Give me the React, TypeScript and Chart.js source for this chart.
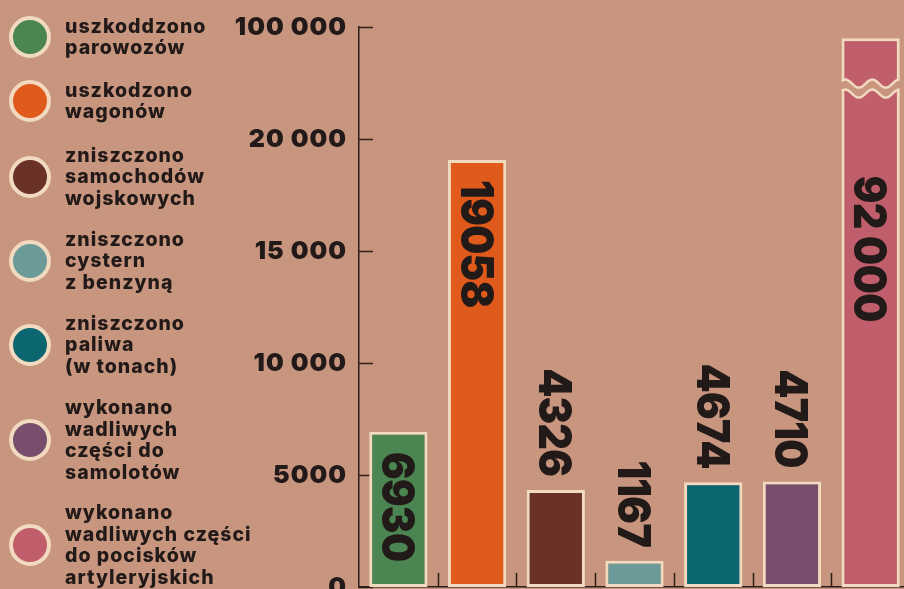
import React, { useEffect, useRef } from "react";
import { Chart, registerables } from "chart.js";

Chart.register(...registerables);

// ---------- data ----------
const categories = [
  "uszkoddzono parowozów",
  "uszkodzono wagonów",
  "zniszczono samochodów wojskowych",
  "zniszczono cystern z benzyną",
  "zniszczono paliwa (w tonach)",
  "wykonano wadliwych części do samolotów",
  "wykonano wadliwych części do pocisków artyleryjskich",
];
const legendLines = [
  ["uszkoddzono", "parowozów"],
  ["uszkodzono", "wagonów"],
  ["zniszczono", "samochodów", "wojskowych"],
  ["zniszczono", "cystern", "z benzyną"],
  ["zniszczono", "paliwa", "(w tonach)"],
  ["wykonano", "wadliwych", "części do", "samolotów"],
  ["wykonano", "wadliwych części", "do pocisków", "artyleryjskich"],
];
const values = [6930, 19058, 4326, 1167, 4674, 4710, 92000];
const valueLabels = ["6930", "19058", "4326", "1167", "4674", "4710", "92 000"];
const barColors = ["#4b8551", "#e05a1b", "#6a3129", "#6b9a99", "#0b6670", "#784e6c", "#c15e6b"];
const tickValues = [0, 5000, 10000, 15000, 20000, 100000];
const tickLabels = ["0", "5000", "10 000", "15 000", "20 000", "100 000"];

// axis break: above 20 000 the scale is compressed 16x
const BREAK = 20000;
const COMPRESS = 16;
const toDisplay = (v: number) => (v <= BREAK ? v : BREAK + (v - BREAK) / COMPRESS);

// ---------- styling ----------
const BG = "#c8957e";
const CREAM = "#f1dabf";
const INK = "#221a18";
const AXIS = "#2c1e18";
const FONT = "Inter, 'DejaVu Sans', sans-serif";
const legendCenters = [37, 101, 177, 261, 345, 440, 545];

const spacing = {
  id: "spacing",
  beforeDraw(chart: any) {
    chart.ctx.letterSpacing = "1px";
  },
  beforeDatasetsDraw(chart: any) {
    chart.ctx.letterSpacing = "0px";
  },
};

const axisMarks = {
  id: "axisMarks",
  beforeDatasetsDraw(chart: any) {
    const { ctx, chartArea, scales } = chart;
    const y = scales.y;
    const x = scales.x;
    ctx.save();
    ctx.strokeStyle = AXIS;
    ctx.lineWidth = 1.5;
    y.ticks.forEach((t: any) => {
      const py = Math.round(y.getPixelForValue(t.value)) + 0.5;
      ctx.beginPath();
      ctx.moveTo(chartArea.left, py);
      ctx.lineTo(chartArea.left + 14, py);
      ctx.stroke();
    });
    const n = categories.length;
    for (let i = 1; i <= n; i++) {
      const bx = i < n ? Math.round((x.getPixelForValue(i - 1) + x.getPixelForValue(i)) / 2) : chartArea.right;
      ctx.beginPath();
      ctx.moveTo(bx + 0.5, chartArea.bottom);
      ctx.lineTo(bx + 0.5, chartArea.bottom - 14);
      ctx.stroke();
    }
    ctx.restore();
  },
};

const breakAndLabels = {
  id: "breakAndLabels",
  afterDatasetsDraw(chart: any) {
    const { ctx, scales } = chart;
    const y = scales.y;
    const meta = chart.getDatasetMeta(0);
    ctx.save();
    values.forEach((v, i) => {
      const el: any = meta.data[i];
      const top = el.y;
      const base = el.base;
      const cx = el.x;
      let labelStart: number | null = null;
      if (v > BREAK) {
        // wavy break
        const yc = (y.getPixelForValue(BREAK) + top) / 2;
        const left = cx - el.width / 2 - 3;
        const right = cx + el.width / 2 + 3;
        const A = 4;
        const P = 27;
        const half = 5;
        const wave = (xx: number, off: number) => yc + off - A * Math.sin((2 * Math.PI * (xx - left)) / P);
        ctx.beginPath();
        for (let xx = left; xx <= right; xx += 0.5) {
          const yy = wave(xx, -half);
          if (xx === left) ctx.moveTo(xx, yy);
          else ctx.lineTo(xx, yy);
        }
        for (let xx = right; xx >= left; xx -= 0.5) ctx.lineTo(xx, wave(xx, half));
        ctx.closePath();
        ctx.fillStyle = BG;
        ctx.fill();
        ctx.strokeStyle = CREAM;
        ctx.lineWidth = 2.5;
        [-half, half].forEach((off) => {
          ctx.beginPath();
          for (let xx = left + 3; xx <= right - 3; xx += 0.5) {
            const yy = wave(xx, off);
            if (xx === left + 3) ctx.moveTo(xx, yy);
            else ctx.lineTo(xx, yy);
          }
          ctx.stroke();
        });
        labelStart = yc + 87;
      }
      // value label, rotated 90deg clockwise, slightly condensed
      const fs = 46;
      const sx = 0.9;
      ctx.font = `900 ${fs}px ${FONT}`;
      ctx.letterSpacing = "-1px";
      const txt = valueLabels[i];
      const w = ctx.measureText(txt).width * sx;
      const capH = fs * 0.72;
      ctx.fillStyle = INK;
      ctx.textBaseline = "alphabetic";
      if (labelStart === null && base - top >= w + 40) labelStart = top + 20;
      ctx.save();
      if (labelStart !== null) {
        ctx.translate(cx, labelStart);
        ctx.rotate(Math.PI / 2);
        ctx.scale(sx, 1);
        ctx.textAlign = "left";
      } else {
        ctx.translate(cx, top - 14);
        ctx.rotate(Math.PI / 2);
        ctx.scale(sx, 1);
        ctx.textAlign = "right";
      }
      ctx.fillText(txt, 0, capH / 2);
      ctx.restore();
    });
    ctx.letterSpacing = "0px";
    ctx.restore();
  },
};

export default function App() {
  const ref = useRef<HTMLCanvasElement | null>(null);

  useEffect(() => {
    if (!ref.current) return;
    const chart = new Chart(ref.current, {
      type: "bar",
      data: {
        labels: categories,
        datasets: [
          {
            data: values.map(toDisplay),
            backgroundColor: barColors,
            borderColor: CREAM,
            borderWidth: 3,
            borderSkipped: false,
            categoryPercentage: 0.74,
            barPercentage: 1,
          },
        ],
      },
      options: {
        responsive: false,
        maintainAspectRatio: false,
        animation: false,
        layout: { padding: { left: 209, right: 2, top: 27, bottom: 2 } },
        plugins: { legend: { display: false }, tooltip: { enabled: false } },
        scales: {
          x: {
            ticks: { display: false },
            grid: { display: false, drawTicks: false },
            border: { display: true, color: AXIS, width: 1.5 },
            afterFit: (s: any) => {
              s.height = 0;
            },
          },
          y: {
            min: 0,
            max: toDisplay(100000),
            afterBuildTicks: (s: any) => {
              s.ticks = tickValues.map((v) => ({ value: toDisplay(v) }));
            },
            ticks: {
              padding: 12,
              color: INK,
              font: { family: FONT, size: 25, weight: "900" as any },
              callback: (_v: any, i: number) => tickLabels[i],
            },
            grid: { display: false, drawTicks: false },
            border: { display: true, color: AXIS, width: 1.5 },
            afterFit: (s: any) => {
              s.width = 150;
              s.paddingTop = 0;
              s.paddingBottom = 0;
            },
          },
        },
      },
      plugins: [spacing, axisMarks, breakAndLabels],
    });
    return () => chart.destroy();
  }, []);

  return (
    <div
      style={{
        position: "fixed",
        left: 0,
        top: 0,
        width: 904,
        height: 589,
        overflow: "hidden",
        background: BG,
      }}
    >
      <canvas ref={ref} width={912} height={589} style={{ position: "absolute", left: 0, top: 0, display: "block" }} />
      {legendLines.map((lines, i) => (
        <div
          key={i}
          style={{
            position: "absolute",
            left: 9,
            top: legendCenters[i] - 50,
            height: 100,
            display: "flex",
            alignItems: "center",
          }}
        >
          <div
            style={{
              width: 34,
              height: 34,
              borderRadius: "50%",
              background: barColors[i],
              border: `4.5px solid ${CREAM}`,
              flex: "none",
            }}
          />
          <div
            style={{
              marginLeft: 14,
              fontFamily: FONT,
              fontWeight: 800,
              fontSize: 19.5,
              letterSpacing: "1px",
              lineHeight: "21.5px",
              color: INK,
              whiteSpace: "nowrap",
            }}
          >
            {lines.map((l, j) => (
              <div key={j}>{l}</div>
            ))}
          </div>
        </div>
      ))}
    </div>
  );
}
